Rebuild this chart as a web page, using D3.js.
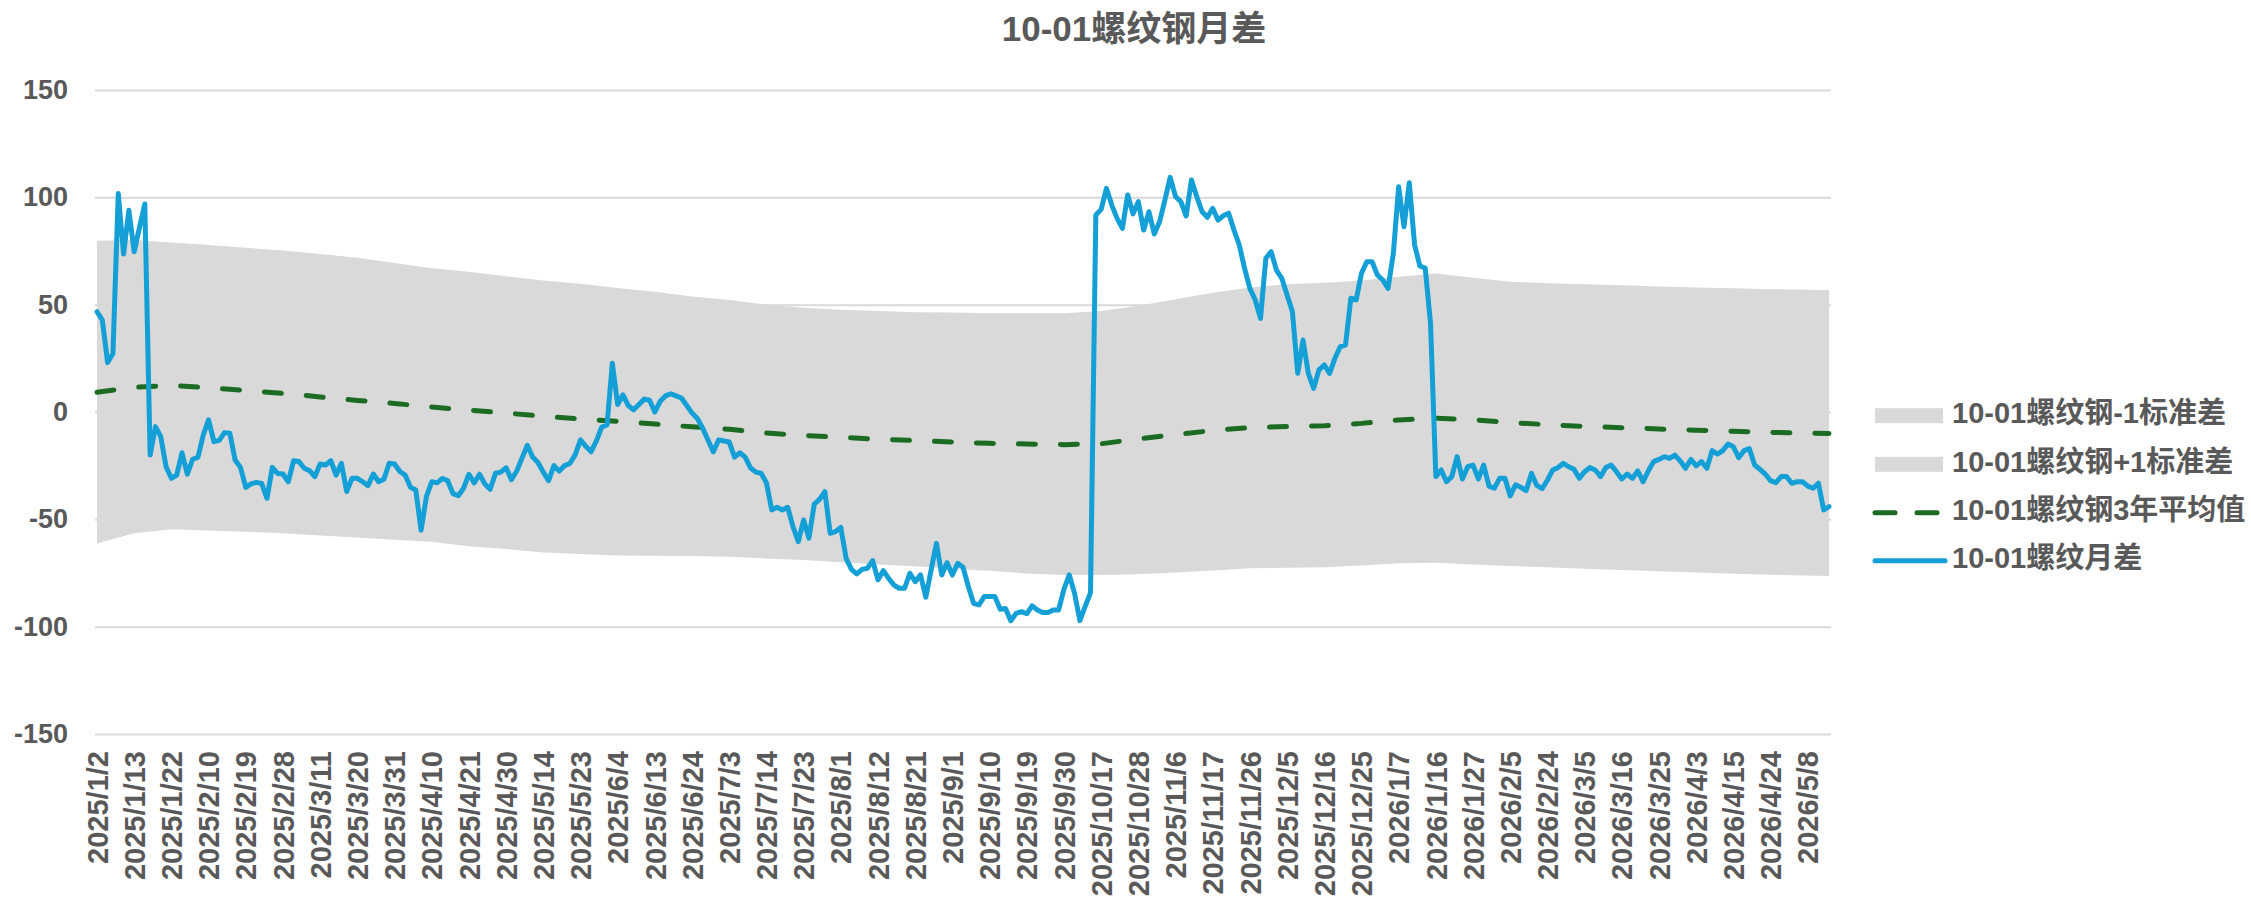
<!DOCTYPE html>
<html>
<head>
<meta charset="utf-8">
<script src="https://cdn.jsdelivr.net/npm/d3@7"></script>
<style>
  html, body { margin: 0; padding: 0; background: #ffffff; }
  svg { display: block; }
  text { font-family: "Liberation Sans", Arial, "Noto Sans CJK SC", sans-serif; font-weight: bold; fill: #595959; }
</style>
</head>
<body>
<svg id="chart" width="2251" height="900"></svg>
<script>
// ---------------- DATA ----------------
const title = "10-01螺纹钢月差";
const seriesNames = ["10-01螺纹钢-1标准差", "10-01螺纹钢+1标准差", "10-01螺纹钢3年平均值", "10-01螺纹月差"];

// trading days (category axis)
const calendar = [
  ["2025/1", [2,3,6,7,8,9,10,13,14,15,16,17,20,21,22,23,24,27]],
  ["2025/2", [5,6,7,10,11,12,13,14,17,18,19,20,21,24,25,26,27,28]],
  ["2025/3", [3,4,5,6,7,10,11,12,13,14,17,18,19,20,21,24,25,26,27,28,31]],
  ["2025/4", [1,2,3,7,8,9,10,11,14,15,16,17,18,21,22,23,24,25,28,29,30]],
  ["2025/5", [6,7,8,9,12,13,14,15,16,19,20,21,22,23,26,27,28,29,30]],
  ["2025/6", [3,4,5,6,9,10,11,12,13,16,17,18,19,20,23,24,25,26,27,30]],
  ["2025/7", [1,2,3,4,7,8,9,10,11,14,15,16,17,18,21,22,23,24,25,28,29,30,31]],
  ["2025/8", [1,4,5,6,7,8,11,12,13,14,15,18,19,20,21,22,25,26,27,28,29]],
  ["2025/9", [1,2,3,4,5,8,9,10,11,12,15,16,17,18,19,22,23,24,25,26,29,30]],
  ["2025/10", [9,10,13,14,15,16,17,20,21,22,23,24,27,28,29,30,31]],
  ["2025/11", [3,4,5,6,7,10,11,12,13,14,17,18,19,20,21,24,25,26,27,28]],
  ["2025/12", [1,2,3,4,5,8,9,10,11,12,15,16,17,18,19,22,23,24,25,26,29,30,31]],
  ["2026/1", [5,6,7,8,9,12,13,14,15,16,19,20,21,22,23,26,27,28,29,30]],
  ["2026/2", [2,3,4,5,6,9,10,11,12,13,24,25,26,27]],
  ["2026/3", [2,3,4,5,6,9,10,11,12,13,16,17,18,19,20,23,24,25,26,27,30,31]],
  ["2026/4", [1,2,3,7,8,9,10,13,14,15,16,17,20,21,22,23,24,27,28,29,30]],
  ["2026/5", [6,7,8,11,12,13,14]]
];
const categories = calendar.flatMap(([ym, ds]) => ds.map(d => ym + "/" + d));

const tickLabels = ["2025/1/2","2025/1/13","2025/1/22","2025/2/10","2025/2/19","2025/2/28","2025/3/11","2025/3/20","2025/3/31","2025/4/10","2025/4/21","2025/4/30","2025/5/14","2025/5/23","2025/6/4","2025/6/13","2025/6/24","2025/7/3","2025/7/14","2025/7/23","2025/8/1","2025/8/12","2025/8/21","2025/9/1","2025/9/10","2025/9/19","2025/9/30","2025/10/17","2025/10/28","2025/11/6","2025/11/17","2025/11/26","2025/12/5","2025/12/16","2025/12/25","2026/1/7","2026/1/16","2026/1/27","2026/2/5","2026/2/24","2026/3/5","2026/3/16","2026/3/25","2026/4/3","2026/4/15","2026/4/24","2026/5/8"];

const yTicks = [-150, -100, -50, 0, 50, 100, 150];

// 10-01螺纹月差 (one value per trading day)
const spread = [
  46.7,42.8,23,27.3,101.8,73.6,94,74.7,86,96.9,
  -20,-6.8,-11.5,-25.5,-30.9,-29.4,-19,-29,-22,-21.1,
  -10.7,-3.7,-13.8,-13.2,-9.6,-9.9,-22.4,-25.8,-35.1,-33.5,
  -32.8,-33.3,-40.2,-25.8,-28.6,-28.9,-32.5,-22.7,-23.1,-26.2,
  -27.3,-30.1,-24.2,-24.7,-22.7,-29.4,-23.9,-37.1,-30.9,-30.9,
  -32.5,-34.3,-28.9,-32.5,-31.3,-23.9,-24.2,-27.7,-29.4,-35.1,
  -36.3,-55,-39.4,-32.5,-33,-31,-32,-38,-39,-35.5,
  -29,-33,-29,-33.5,-36,-28.5,-28,-26,-31.5,-27.5,
  -21.5,-15.5,-21,-23.5,-28,-32,-25,-27.5,-25,-24,
  -20,-13,-16,-18.5,-13.5,-7,-6,22.7,3.5,8,
  3,1,3.5,6,5.5,0,5,7.5,8.5,7.5,
  6.5,3,-0.5,-3,-7.5,-13,-18.5,-13,-13.5,-14,
  -21,-19,-21,-26,-28,-28.5,-33,-45.6,-44.4,-45.6,
  -44.4,-53.4,-60.4,-50.3,-58.8,-42.9,-40.7,-37.1,-56.5,-55.7,
  -53.8,-68.2,-73.3,-75.4,-73.3,-72.8,-69.2,-78.2,-73.9,-77.5,
  -80.6,-82.1,-82.1,-75.2,-79,-75.9,-86.3,-73.6,-61.2,-75.9,
  -70.2,-75.9,-70.5,-72.3,-81.3,-89.1,-89.9,-86,-86,-86,
  -91.9,-91.5,-97.2,-93.8,-93,-94,-90.3,-92.2,-93.4,-93.4,
  -92.2,-92.2,-82.6,-75.9,-84.5,-97.2,-90.6,-84.1,91.8,94.4,
  104.2,96.4,90.2,85.5,101.1,92.3,98,84.8,93.3,82.9,
  88.6,98.7,109.3,100.3,98,91.3,108.1,100.3,93.3,90.7,
  94.9,89.4,91.4,92.6,84.8,77.8,66.9,57.6,52.2,43.6,
  71.6,74.7,66.1,62.3,54.5,46.7,18,33.5,18,11,
  19.6,21.9,18,25,30.4,31.2,53,52.2,64.6,70,
  70,63.8,61.5,57.6,73.9,104.9,86.3,106.8,77.8,68,
  67,41.3,-30.1,-27,-32.5,-30.1,-20.8,-31.2,-25.5,-24.7,
  -31.2,-24.7,-34.5,-35.5,-30.9,-30.9,-39.1,-33.9,-35.1,-36.6,
  -28.6,-34.2,-35.7,-31.8,-27,-25.9,-23.9,-25.5,-26.7,-30.9,
  -27.8,-25.9,-27,-30.1,-25.9,-24.7,-27.8,-31.2,-28.9,-30.9,
  -27.4,-32.5,-27.4,-23.1,-22.1,-20.8,-21.6,-20.1,-22.8,-26.2,
  -22.1,-25.1,-23.1,-26.2,-18,-19.6,-18,-14.9,-16.2,-21.3,
  -18,-17,-24.7,-26.7,-28.9,-32,-32.9,-30.1,-30.1,-33.2,
  -32.5,-32.5,-34.5,-35.5,-33.2,-45.6,-44.1
];

// band / average series, read at the labelled dates plus the last date
const bandDates = tickLabels.concat(["2026/5/14"]);
const plus1Std = [79.8,80.1,79,77.8,76.5,75.2,73.6,71.8,69.4,67,65.3,63.2,61.2,59.7,57.8,56,53.8,52.2,50,48.6,47.6,47,46.5,46.3,46,46,46,47,49.5,52.5,55.5,58,59.5,60.2,61.2,63,64.5,62.5,60.7,60,59.5,59,58.5,58,57.6,57.2,57,56.8];
const minus1Std = [-61.2,-56.5,-54.6,-55.2,-55.8,-56.5,-57.5,-58.5,-59.5,-60.4,-62.5,-63.8,-65.5,-66.2,-66.8,-67,-67.1,-67.4,-68.2,-69,-70,-71,-71.8,-73,-74,-75.2,-75.9,-75.9,-75.6,-74.8,-73.8,-72.8,-72.6,-72.3,-71.5,-70.5,-70.2,-71,-71.7,-72.3,-73,-73.6,-74.2,-74.8,-75.3,-75.8,-76.2,-76.4];
const avg3y = [9.2,11.5,12.4,11.3,10,8.7,7,5.4,4,2.3,0.9,-0.5,-2,-3.3,-4.3,-5.6,-6.9,-8,-9.8,-10.9,-11.8,-12.7,-13.3,-14,-14.6,-14.9,-15.2,-14.8,-12.5,-10.6,-8.6,-7.3,-6.8,-6.4,-5.3,-3.7,-2.9,-3.6,-4.9,-5.9,-6.7,-7.3,-7.9,-8.5,-9,-9.5,-9.9,-10];

// ---------------- CHART ----------------
const svg = d3.select("#chart");
const plot = { left: 95, right: 1831, top: 90, bottom: 734 };

const x = d3.scalePoint().domain(categories).range([97, 1829]);
const y = d3.scaleLinear().domain([-150, 150]).range([plot.bottom, plot.top]);

const colors = { band: "#D9D9D9", avg: "#1B6B22", line: "#14A0D7", grid: "#D9D9D9", text: "#595959" };
const latin = '"Liberation Sans", Arial, sans-serif';

// gridlines
const grid = svg.append("g").attr("transform", `translate(${plot.left},0)`)
  .call(d3.axisLeft(y).tickValues(yTicks).tickSize(-(plot.right - plot.left)).tickFormat(""));
grid.select(".domain").remove();
grid.selectAll("line").attr("stroke", colors.grid).attr("stroke-width", 2);

// bands (areas to zero)
const bandPts = (vals) => bandDates.map((d, i) => ({ d, v: vals[i] }));
const area = d3.area().x(p => x(p.d)).y0(y(0)).y1(p => y(p.v));
svg.append("path").datum(bandPts(plus1Std)).attr("d", area).attr("fill", colors.band);
svg.append("path").datum(bandPts(minus1Std)).attr("d", area).attr("fill", colors.band);

// 3-year average (dashed)
const line = d3.line().x(p => x(p.d)).y(p => y(p.v));
svg.append("path").datum(bandPts(avg3y)).attr("d", line)
  .attr("fill", "none").attr("stroke", colors.avg).attr("stroke-width", 5)
  .attr("stroke-dasharray", "17 25").attr("stroke-linecap", "round");

// main spread line
svg.append("path").datum(categories.map((d, i) => ({ d, v: spread[i] }))).attr("d", line)
  .attr("fill", "none").attr("stroke", colors.line).attr("stroke-width", 5)
  .attr("stroke-linejoin", "round").attr("stroke-linecap", "round");

// y axis labels
const yAxis = svg.append("g").attr("transform", `translate(${plot.left},0)`)
  .call(d3.axisLeft(y).tickValues(yTicks).tickSize(0).tickPadding(27).tickFormat(d => String(d)));
yAxis.select(".domain").remove();
yAxis.selectAll("text").attr("font-size", 27).attr("fill", colors.text)
  .style("font-family", latin).style("font-weight", "bold");

// x axis labels
const xAxis = svg.append("g").attr("transform", `translate(0,${plot.bottom})`)
  .call(d3.axisBottom(x).tickValues(tickLabels).tickSize(0));
xAxis.select(".domain").remove();
xAxis.selectAll("text")
  .attr("transform", "rotate(-90)")
  .attr("text-anchor", "end")
  .attr("x", -17).attr("y", 0).attr("dy", "0.35em")
  .attr("font-size", 29).attr("fill", colors.text)
  .style("font-family", latin).style("font-weight", "bold");

// title
svg.append("text").attr("x", 1134).attr("y", 32).attr("text-anchor", "middle")
  .attr("dominant-baseline", "middle").attr("font-size", 35).text(title);

// legend
const legend = svg.append("g");
const rowsY = [415.7, 464.3, 512.7, 560.7];
const swX0 = 1875, swX1 = 1943, txtX = 1952;
seriesNames.forEach((name, i) => {
  const cy = rowsY[i];
  if (i < 2) {
    legend.append("rect").attr("x", swX0).attr("y", cy - 7.5).attr("width", swX1 - swX0).attr("height", 15).attr("fill", colors.band);
  } else if (i === 2) {
    legend.append("line").attr("x1", swX0).attr("x2", swX1 + 2).attr("y1", cy).attr("y2", cy)
      .attr("stroke", colors.avg).attr("stroke-width", 5).attr("stroke-dasharray", "20 22").attr("stroke-linecap", "round");
  } else {
    legend.append("line").attr("x1", swX0).attr("x2", swX1 + 2).attr("y1", cy).attr("y2", cy)
      .attr("stroke", colors.line).attr("stroke-width", 5).attr("stroke-linecap", "round");
  }
  legend.append("text").attr("x", txtX).attr("y", cy).attr("dominant-baseline", "middle")
    .attr("font-size", 29).text(name);
});
</script>
</body>
</html>
